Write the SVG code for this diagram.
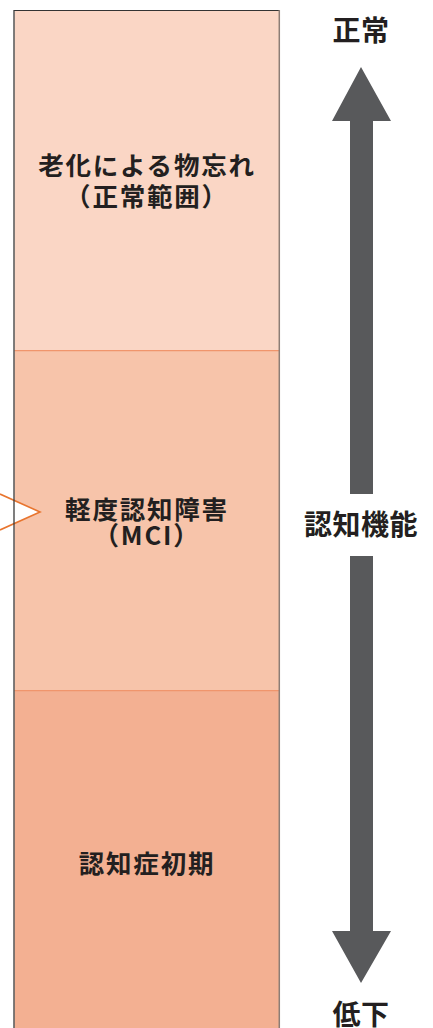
<svg xmlns="http://www.w3.org/2000/svg" width="433" height="1028" viewBox="0 0 433 1028">
<style>
.box{font-family:"Noto Sans CJK JP","Noto Sans",sans-serif;font-size:25.5px;font-weight:bold;fill:#231f20;text-anchor:middle;letter-spacing:1.8px}
.lbl{font-family:"Noto Sans CJK JP","Noto Sans",sans-serif;font-size:28px;font-weight:bold;fill:#231f20;text-anchor:middle;letter-spacing:0.5px}
.div{stroke:#f0956c;stroke-width:1.2}
.arr{fill:#58595b}
</style>
<rect width="433" height="1028" fill="#ffffff"/>
<g id="normal">
<rect x="14.5" y="10.5" width="264.5" height="340" fill="#fad6c5"/>
<text class="box" x="147" y="175">老化による物忘れ</text>
<text class="box" x="147" y="206">（正常範囲）</text>
</g>
<g id="mci">
<rect x="14.5" y="350.5" width="264.5" height="340" fill="#f7c4aa"/>
<text class="box" x="147" y="519">軽度認知障害</text>
<text class="box" x="147" y="545">（MCI）</text>
</g>
<g id="early">
<rect x="14.5" y="690.5" width="264.5" height="338" fill="#f3b092"/>
<text class="box" x="147" y="873">認知症初期</text>
</g>
<g id="pointer">
<path d="M0,494 L40,512 L0,530" fill="#ffffff" stroke="#e8752f" stroke-width="1.6" stroke-linejoin="miter"/>
</g>
<g id="frame">
<line class="div" x1="14.5" y1="350.7" x2="279" y2="350.7"/>
<line class="div" x1="14.5" y1="690.7" x2="279" y2="690.7"/>
<line x1="14" y1="10.5" x2="279" y2="10.5" stroke="#333" stroke-width="1.2"/>
<line x1="14" y1="10" x2="14" y2="1028" stroke="#3a3a3a" stroke-width="1.3"/>
<line x1="279.3" y1="10" x2="279.3" y2="1028" stroke="#8c7d76" stroke-width="1.5"/>
</g>
<g id="connectors">
<path class="arr" d="M361,67 L391,121 L373,121 L373,494 L350,494 L350,121 L332,121 Z"/>
<path class="arr" d="M350,556 L373,556 L373,931 L391,931 L361,983 L332,931 L350,931 Z"/>
</g>
<g id="labels">
<text class="lbl" x="361" y="41">正常</text>
<text class="lbl" x="361" y="535">認知機能</text>
<text class="lbl" x="361" y="1025">低下</text>
</g>
</svg>
